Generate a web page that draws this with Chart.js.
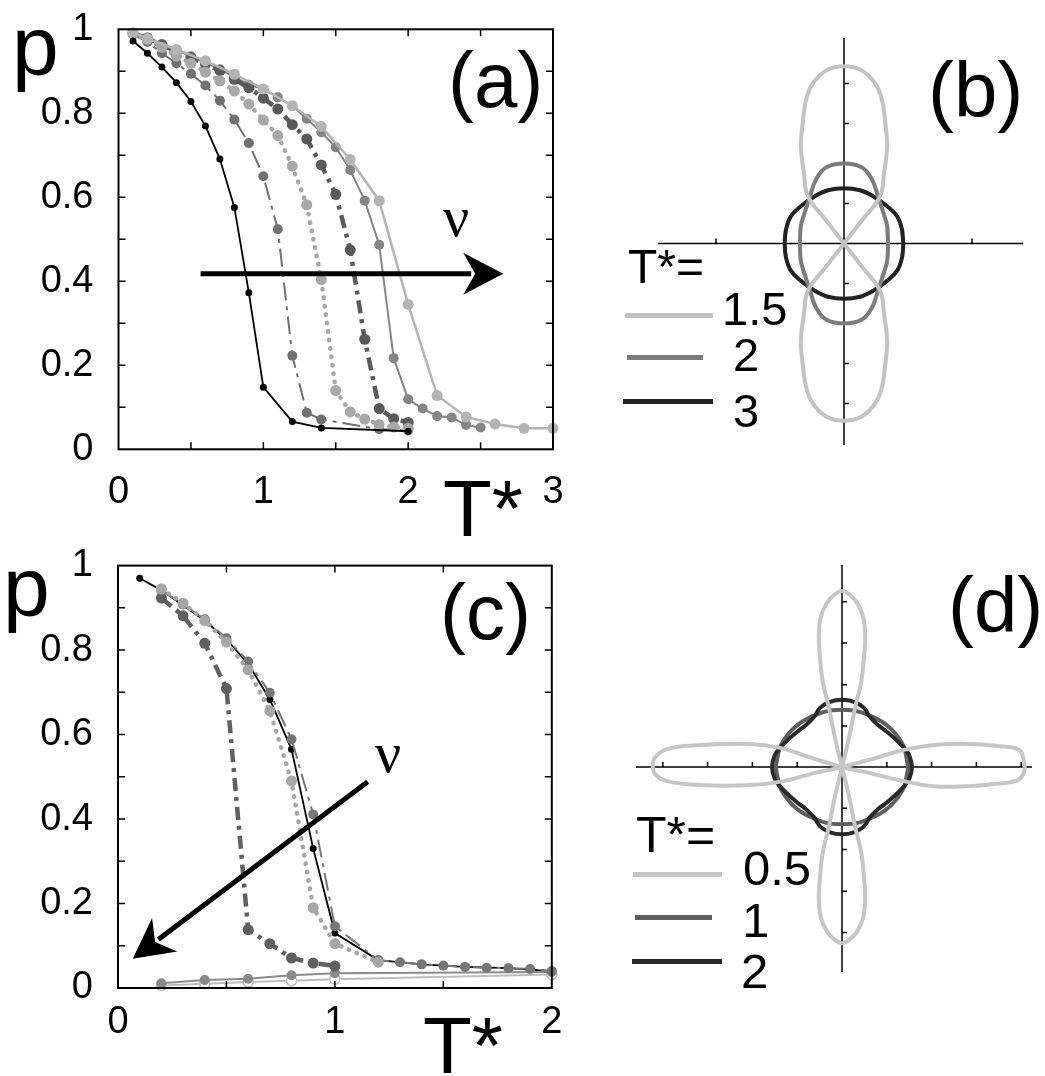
<!DOCTYPE html>
<html>
<head>
<meta charset="utf-8">
<script src="https://cdn.jsdelivr.net/npm/chart.js@4.4.1/dist/chart.umd.min.js"></script>
<style>
body{margin:0;background:#fff;width:1045px;height:1076px;position:relative;overflow:hidden;font-family:"Liberation Sans",Arial,sans-serif}
canvas{position:absolute}
.t{position:absolute;line-height:1;white-space:nowrap;color:#000}
.nu{font-family:"Liberation Serif","DejaVu Serif",serif}
.k{position:absolute;height:5px}
</style>
</head>
<body>
<canvas id="ca" width="600" height="540" style="left:0;top:0"></canvas>
<canvas id="cb" width="365" height="407" style="left:658px;top:38px"></canvas>
<canvas id="cc" width="600" height="536" style="left:0;top:540px"></canvas>
<canvas id="cd" width="396" height="407" style="left:636px;top:565px"></canvas>

<div class="t" style="font-size:84px;left:12px;top:4px">p</div>
<div class="t" style="font-size:80px;left:443px;top:469px">T*</div>
<div class="t" style="font-size:78px;left:448px;top:41px">(a)</div>
<div class="t nu" style="font-size:58px;left:443px;top:188px">ν</div>

<div class="t" style="font-size:78px;left:928px;top:51px">(b)</div>
<div class="t" style="font-size:48px;left:628px;top:243px">T*=</div>
<div class="k" style="left:625px;top:313px;width:88px;background:#c3c3c3"></div>
<div class="k" style="left:627px;top:355px;width:76px;background:#7c7c7c"></div>
<div class="k" style="left:623px;top:399px;width:90px;background:#222"></div>
<div class="t" style="font-size:47px;left:722px;top:285px">1.5</div>
<div class="t" style="font-size:47px;left:733px;top:331px">2</div>
<div class="t" style="font-size:47px;left:733px;top:387px">3</div>

<div class="t" style="font-size:84px;left:3px;top:545px">p</div>
<div class="t" style="font-size:80px;left:423px;top:1006px">T*</div>
<div class="t" style="font-size:78px;left:440px;top:573px">(c)</div>
<div class="t nu" style="font-size:58px;left:375px;top:724px">ν</div>

<div class="t" style="font-size:78px;left:948px;top:566px">(d)</div>
<div class="t" style="font-size:50px;left:636px;top:810px">T*=</div>
<div class="k" style="left:633px;top:872px;width:89px;background:#c6c6c6"></div>
<div class="k" style="left:635px;top:915px;width:77px;background:#5f5f5f"></div>
<div class="k" style="left:632px;top:959px;width:90px;background:#2a2a2a"></div>
<div class="t" style="font-size:49px;left:743px;top:844px">0.5</div>
<div class="t" style="font-size:49px;left:742px;top:896px">1</div>
<div class="t" style="font-size:49px;left:741px;top:947px">2</div>

<script>
// ---- panel (a): p vs T*, six curves
const aT_black = [0.1,0.2,0.3,0.4,0.5,0.6,0.7,0.8,0.9,1.0,1.2,1.4,2.0];
const aP_black = [0.972,0.943,0.910,0.873,0.828,0.770,0.691,0.576,0.373,0.148,0.066,0.051,0.043];
const aT_s2 = [0.1,0.2,0.3,0.4,0.5,0.6,0.7,0.8,0.9,1.0,1.1,1.2,1.3,1.4,1.8,2.0];
const aP_s2 = [0.988,0.970,0.943,0.919,0.894,0.866,0.830,0.785,0.729,0.650,0.524,0.223,0.087,0.071,0.048,0.045];
const aT_s3 = [0.1,0.2,0.3,0.4,0.5,0.6,0.7,0.8,0.9,1.0,1.1,1.2,1.3,1.4,1.5,1.6,1.7,1.8,1.9,2.0];
const aP_s3 = [0.990,0.976,0.957,0.936,0.919,0.898,0.877,0.853,0.822,0.784,0.747,0.674,0.582,0.404,0.140,0.089,0.072,0.059,0.053,0.050];
const aT_s4 = [0.1,0.2,0.3,0.4,0.5,0.6,0.7,0.8,0.9,1.0,1.1,1.2,1.3,1.4,1.5,1.6,1.7,1.8,1.9,2.0];
const aP_s4 = [0.990,0.979,0.963,0.947,0.933,0.917,0.902,0.881,0.861,0.836,0.810,0.773,0.739,0.677,0.607,0.475,0.262,0.097,0.073,0.064];
const aT_s5 = [0.1,0.2,0.3,0.4,0.5,0.6,0.7,0.8,0.9,1.0,1.1,1.2,1.3,1.4,1.5,1.6,1.7,1.8,1.9,2.0,2.1,2.2,2.3,2.4,2.5];
const aP_s5 = [0.991,0.980,0.965,0.950,0.936,0.921,0.905,0.886,0.868,0.858,0.838,0.818,0.787,0.755,0.719,0.665,0.592,0.487,0.217,0.119,0.097,0.079,0.076,0.058,0.052];
const aT_s6 = [0.1,0.2,0.4,0.6,0.8,1.0,1.2,1.4,1.6,1.8,2.0,2.2,2.4,2.6,2.8,3.0];
const aP_s6 = [0.992,0.978,0.952,0.925,0.893,0.858,0.818,0.769,0.690,0.592,0.345,0.128,0.077,0.060,0.050,0.050];
const aArrow = [[0.567,0.418],[2.656,0.418]];

// ---- panel (c)
const cT_black = [0.1,0.2,0.3,0.4,0.5,0.6,0.7,0.8,0.9,1.0,1.2,1.4,1.6,1.8,2.0];
const cP_black = [0.970,0.942,0.906,0.870,0.825,0.768,0.683,0.565,0.330,0.130,0.066,0.056,0.050,0.047,0.040];
const cT_s2 = [0.2,0.3,0.4,0.5,0.6,0.7,0.8,0.9,1.0,1.2,1.3,1.4,1.5,1.6,1.7,1.8,1.9,2.0];
const cP_s2 = [0.941,0.908,0.873,0.828,0.773,0.699,0.589,0.411,0.146,0.066,0.061,0.056,0.053,0.050,0.048,0.047,0.045,0.040];
const cT_s3 = [0.2,0.3,0.4,0.5,0.6,0.7,0.8,0.9,1.0,1.2];
const cP_s3 = [0.945,0.911,0.870,0.819,0.753,0.656,0.490,0.190,0.105,0.061];
const cT_s4 = [0.2,0.3,0.4,0.5,0.6,0.7,0.8,0.9,1.0];
const cP_s4 = [0.923,0.881,0.816,0.709,0.138,0.105,0.071,0.059,0.052];
const cT_s5 = [0.2,0.4,0.6,0.8,1.0,2.0];
const cP_s5 = [0.011,0.019,0.022,0.030,0.035,0.038];
const cT_s6 = [0.2,0.4,0.6,0.8,1.0,2.0];
const cP_s6 = [0.006,0.010,0.014,0.017,0.021,0.032];
const cArrow = [[1.151,0.488],[0.068,0.069]];

// ---- panel (b): angular distributions, first quadrant outlines (arb. units)
const bLobe15 = [[0,0],[0.45,0.58],[0.9,1.18],[1.0,1.75],[1.08,2.43],[1.05,2.85],[0.95,3.58],[0.78,4.0],[0.43,4.33],[0,4.43]];
const bQuad2 = [[1.1,0],[1.08,0.43],[0.98,0.78],[0.85,1.18],[0.7,1.6],[0.45,1.9],[0,2.0]];
const bQuad3 = [[1.48,0],[1.45,0.35],[1.33,0.68],[1.08,0.93],[0.73,1.18],[0.4,1.33],[0,1.38]];
const bTicksX = [-3.2,3.2];
const bTicksY = [-4,-3,-2,-1,1,2,3,4];

// ---- panel (d)
const dPetalV = [[0,0],[0.18,0.75],[0.33,1.5],[0.48,2.13],[0.55,2.75],[0.58,3.28],[0.53,3.75],[0.38,4.1],[0.2,4.3],[0,4.4]];
const dPetalR = [[0,0],[0.75,0.2],[1.55,0.43],[2.3,0.55],[3.13,0.58],[3.88,0.53],[4.43,0.43],[4.55,0.13],[4.55,-0.13],[4.38,-0.33],[3.75,-0.43],[3.13,-0.48],[2.3,-0.48],[1.45,-0.33],[0.7,-0.15],[0,0]];
const dPetalL = [[-0.75,0.23],[-1.55,0.48],[-2.3,0.58],[-3.55,0.55],[-4.38,0.45],[-4.68,0.23],[-4.73,0],[-4.65,-0.2],[-4.38,-0.35],[-3.55,-0.45],[-2.3,-0.45],[-1.45,-0.35],[-0.7,-0.15],[0,0]];
const dQuad1 = [[1.65,0],[1.6,0.3],[1.55,0.5],[1.4,0.75],[1.25,0.93],[1.05,1.1],[0.88,1.2],[0.45,1.38],[0,1.43]];
const dQuad2 = [[1.75,0],[1.68,0.3],[1.55,0.48],[1.3,0.73],[1.1,0.9],[0.9,1.05],[0.7,1.25],[0.55,1.48],[0.3,1.63],[0,1.68]];
const dTicksX = [-4.48,-3.36,-2.24,-1.12,1.12,2.24,3.36,4.48];
const dTicksY = [-4.13,-3.1,-2.06,-1.03,1.03,2.06,3.1,4.13];

const FONT = "'Liberation Sans', Arial, sans-serif";

function pts(xs, ys){ return xs.map((v,i)=>({x:v, y:ys[i]})); }

// closed loop from a first-quadrant outline, mirrored to the other three
function loop(q){
  const out = [];
  q.forEach(([x,y]) => out.push({x, y}));
  q.slice(0,-1).reverse().forEach(([x,y]) => out.push({x:-x, y}));
  q.slice(1).forEach(([x,y]) => out.push({x:-x, y:-y}));
  q.slice(0,-1).reverse().forEach(([x,y]) => out.push({x, y:-y}));
  out.push(out[1]);
  return out;
}
// two vertical lobes through the origin (figure eight)
function eight(e){
  const out = [];
  e.forEach(([x,y]) => out.push({x, y}));
  e.slice(0,-1).reverse().forEach(([x,y]) => out.push({x:-x, y}));
  e.slice(1).forEach(([x,y]) => out.push({x, y:-y}));
  e.slice(0,-1).reverse().forEach(([x,y]) => out.push({x:-x, y:-y}));
  out.push(out[1]);
  return out;
}

const framePlugin = {
  id: 'frame',
  afterDatasetsDraw(chart, args, opts){
    const {ctx, scales:{x, y}} = chart;
    if (!opts.arrow) return;
    const [a0, a1] = opts.arrow;
    const x0 = x.getPixelForValue(a0[0]), y0 = y.getPixelForValue(a0[1]);
    const x1 = x.getPixelForValue(a1[0]), y1 = y.getPixelForValue(a1[1]);
    const ang = Math.atan2(y1-y0, x1-x0);
    const L = 40, W = 21;
    ctx.save();
    ctx.translate(x1, y1); ctx.rotate(ang);
    ctx.strokeStyle = '#000'; ctx.fillStyle = '#000'; ctx.lineWidth = 5;
    const len = Math.hypot(x1-x0, y1-y0);
    ctx.beginPath(); ctx.moveTo(-len, 0); ctx.lineTo(-L+8, 0); ctx.stroke();
    ctx.beginPath();
    ctx.moveTo(0, 0); ctx.lineTo(-L, -W); ctx.lineTo(-L+12, 0); ctx.lineTo(-L, W);
    ctx.closePath(); ctx.fill();
    ctx.restore();
  },
  afterDraw(chart){
    const {ctx, chartArea:a, scales:{x, y}} = chart;
    ctx.save();
    ctx.strokeStyle = '#000';
    ctx.lineWidth = 1.5;
    ctx.beginPath();
    x.ticks.forEach(t => {
      const p = x.getPixelForValue(t.value);
      if (p < a.left + 2 || p > a.right - 2) return;
      ctx.moveTo(p, a.bottom); ctx.lineTo(p, a.bottom - 7);
      ctx.moveTo(p, a.top); ctx.lineTo(p, a.top + 7);
    });
    y.ticks.forEach(t => {
      const p = y.getPixelForValue(t.value);
      if (p < a.top + 2 || p > a.bottom - 2) return;
      ctx.moveTo(a.left, p); ctx.lineTo(a.left + 7, p);
      ctx.moveTo(a.right, p); ctx.lineTo(a.right - 7, p);
    });
    ctx.stroke();
    ctx.lineWidth = 2;
    ctx.strokeRect(a.left, a.top, a.right - a.left, a.bottom - a.top);
    ctx.restore();
  }
};

const crossPlugin = {
  id: 'cross',
  beforeDatasetsDraw(chart, args, opts){
    const {ctx, chartArea:a, scales:{x, y}} = chart;
    const x0 = x.getPixelForValue(0), y0 = y.getPixelForValue(0);
    ctx.save();
    ctx.strokeStyle = '#000'; ctx.lineWidth = 1.5;
    ctx.beginPath();
    ctx.moveTo(a.left, y0); ctx.lineTo(a.right, y0);
    ctx.moveTo(x0, a.top); ctx.lineTo(x0, a.bottom);
    opts.xt.forEach(v => { const p = x.getPixelForValue(v); ctx.moveTo(p, y0); ctx.lineTo(p, y0 - 5); });
    opts.yt.forEach(v => { const p = y.getPixelForValue(v); ctx.moveTo(x0, p); ctx.lineTo(x0 + 5, p); });
    ctx.stroke();
    ctx.restore();
  }
};

function series(data, color, width, dash, radius, extra){
  return Object.assign({
    data, showLine: true, borderColor: color, borderWidth: width, borderDash: dash,
    pointRadius: radius, pointBackgroundColor: color, pointBorderWidth: 0,
    tension: 0, clip: false
  }, extra || {});
}

function pChart(id, xmax, datasets, arrow, pad, yw, xh, labelPad){
  return new Chart(document.getElementById(id), {
    type: 'scatter',
    data: { datasets },
    plugins: [framePlugin],
    options: {
      responsive: false, animation: false, events: [],
      layout: { padding: pad },
      plugins: { legend: {display:false}, tooltip: {enabled:false}, frame: { arrow } },
      scales: {
        x: {
          type: 'linear', min: 0, max: xmax,
          grid: { display: false, drawTicks: false }, border: { display: false },
          ticks: { stepSize: 0.5, autoSkip: false, maxRotation: 0, padding: labelPad,
                   color: '#000', font: { family: FONT, size: 38 },
                   callback: v => Number.isInteger(v) ? String(v) : '' },
          afterFit: s => { s.height = xh; s.paddingLeft = 0; s.paddingRight = 0; }
        },
        y: {
          type: 'linear', min: 0, max: 1,
          grid: { display: false, drawTicks: false }, border: { display: false },
          ticks: { stepSize: 0.1, autoSkip: false, padding: 25,
                   color: '#000', font: { family: FONT, size: 38 },
                   callback: v => Math.abs(v*5 - Math.round(v*5)) < 1e-6 ? String(Math.round(v*10)/10) : '' },
          afterFit: s => { s.width = yw; s.paddingTop = 0; s.paddingBottom = 0; }
        }
      }
    }
  });
}

function polarChart(id, xr, yr, datasets, xt, yt){
  return new Chart(document.getElementById(id), {
    type: 'scatter',
    data: { datasets },
    plugins: [crossPlugin],
    options: {
      responsive: false, animation: false, events: [],
      layout: { padding: 0 },
      plugins: { legend: {display:false}, tooltip: {enabled:false}, cross: { xt, yt } },
      scales: {
        x: { type: 'linear', display: false, min: xr[0], max: xr[1] },
        y: { type: 'linear', display: false, min: yr[0], max: yr[1] }
      }
    }
  });
}

function curve(data, color, order){
  return { data, showLine: true, borderColor: color, borderWidth: 4, pointRadius: 0,
           tension: 0.4, clip: false, order };
}

// (a)
pChart('ca', 3, [
  series(pts(aT_black, aP_black), '#000', 1.8, [], 3.5, {order: 0}),
  series(pts(aT_s2, aP_s2), '#707070', 2, [18,6,4,6], 5, {order: 3}),
  series(pts(aT_s3, aP_s3), '#a8a8a8', 4.5, [0.5,8], 5.5, {order: 2, borderCapStyle: 'round'}),
  series(pts(aT_s4, aP_s4), '#5a5a5a', 4.5, [13,6,4,6], 5.5, {order: 4}),
  series(pts(aT_s5, aP_s5), '#858585', 2, [], 5, {order: 5}),
  series(pts(aT_s6, aP_s6), '#b4b4b4', 2.5, [], 5.5, {order: 1})
], aArrow, {left: 0, top: 29.3, right: 47, bottom: 0}, 118.5, 90.7, 20.4);

// (c)
pChart('cc', 2, [
  series(pts(cT_black, cP_black), '#000', 1.8, [], 3.5, {order: 5}),
  series(pts(cT_s2, cP_s2), '#767676', 2, [18,6,4,6], 5, {order: 2}),
  series(pts(cT_s3, cP_s3), '#a6a6a6', 4.5, [0.5,8], 5.5, {order: 1, borderCapStyle: 'round'}),
  series(pts(cT_s4, cP_s4), '#606060', 4.5, [13,6,4,6], 5.5, {order: 3}),
  series(pts(cT_s5, cP_s5), '#8a8a8a', 2, [], 5, {order: 4}),
  series(pts(cT_s6, cP_s6), '#bdbdbd', 2, [], 5, {order: 6, pointBackgroundColor: '#fff', pointBorderColor: '#bdbdbd', pointBorderWidth: 1.5})
], cArrow, {left: 0, top: 25.6, right: 48.2, bottom: 0}, 118, 88, 11.7);

// (b)
polarChart('cb', [-4.65, 4.475], [-5.0375, 5.1375], [
  curve(eight(bLobe15), '#c3c3c3', 0),
  curve(loop(bQuad2), '#7c7c7c', 1),
  curve(loop(bQuad3), '#222', 2)
], bTicksX, bTicksY);

// (d)
polarChart('cd', [-5.15, 4.75], [-5.12, 5.05], [
  curve(eight(dPetalV), '#c6c6c6', 0),
  curve(dPetalR.concat(dPetalL).map(([x,y]) => ({x, y})).concat([{x: dPetalR[1][0], y: dPetalR[1][1]}]), '#c6c6c6', 0),
  curve(loop(dQuad1), '#5f5f5f', 2),
  curve(loop(dQuad2), '#2a2a2a', 1)
], dTicksX, dTicksY);
</script>
</body>
</html>
